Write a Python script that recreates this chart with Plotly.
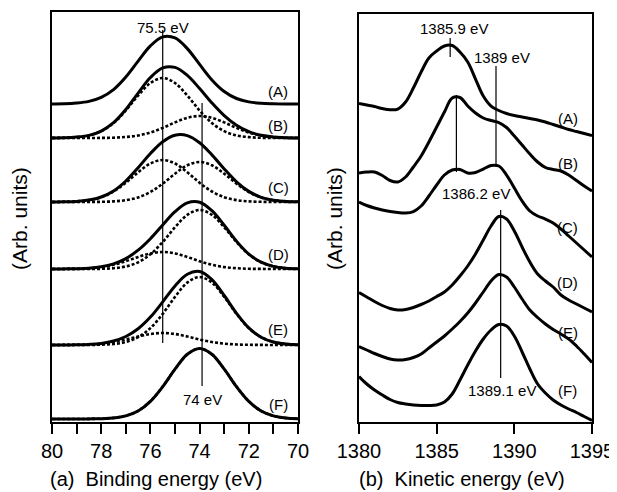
import plotly.graph_objects as go

# ---------------- Panel (a): Binding energy (eV) ----------------
binding_energy = [80, 79.5, 79, 78.5, 78, 77.5, 77, 76.5, 76, 75.5, 75,
                  74.5, 74, 73.5, 73, 72.5, 72, 71.5, 71, 70.5, 70]

xps_A = [318.1, 318.2, 318.9, 320.6, 324.6, 332.4, 345.0, 360.9, 376.1, 385.1, 384.1,
         373.4, 357.6, 342.1, 330.5, 323.5, 320.1, 318.7, 318.2, 318.0, 318.0]

xps_B = [284.1, 284.2, 284.9, 286.6, 290.9, 299.3, 312.5, 328.9, 344.5, 354.1, 354.6,
         346.6, 333.5, 319.1, 306.4, 296.7, 290.3, 286.7, 285.0, 284.3, 284.1]
fit_B1 = [284.1, 284.2, 284.9, 286.6, 290.8, 298.9, 311.5, 326.4, 339.0, 344.0, 339.0,
          326.4, 311.5, 298.9, 290.8, 286.6, 284.9, 284.2, 284.1, 284.0, 284.0]
fit_B2 = [284.0, 284.0, 284.0, 284.0, 284.1, 284.3, 285.0, 286.5, 289.5, 294.1, 299.6,
          304.2, 306.0, 304.2, 299.6, 294.1, 289.5, 286.5, 285.0, 284.3, 284.1]

xps_C = [220.0, 220.2, 220.6, 221.9, 225.0, 231.0, 241.0, 254.3, 268.5, 280.3, 286.8,
         286.4, 279.2, 267.1, 253.1, 240.2, 230.6, 224.7, 221.8, 220.6, 220.2]
fit_C1 = [220.0, 220.2, 220.6, 221.9, 224.8, 230.5, 239.2, 249.7, 258.5, 262.0, 258.5,
          249.7, 239.2, 230.5, 224.8, 221.9, 220.6, 220.2, 220.0, 220.0, 220.0]
fit_C2 = [220.0, 220.0, 220.0, 220.0, 220.2, 220.6, 221.8, 224.6, 230.0, 238.3, 248.3,
          256.7, 260.0, 256.7, 248.3, 238.3, 230.0, 224.6, 221.8, 220.6, 220.2]

xps_D = [153.0, 153.1, 153.3, 153.8, 155.2, 158.1, 163.4, 171.8, 183.3, 197.0, 210.3,
         219.1, 219.8, 211.3, 196.7, 180.8, 167.9, 159.8, 155.6, 153.8, 153.2]
fit_D1 = [153.0, 153.1, 153.2, 153.8, 154.9, 157.2, 160.8, 165.0, 168.6, 170.0, 168.6,
          165.0, 160.8, 157.2, 154.9, 153.8, 153.2, 153.1, 153.0, 153.0, 153.0]
fit_D2 = [153.0, 153.0, 153.0, 153.1, 153.2, 153.8, 155.6, 159.7, 167.7, 180.0, 194.7,
          207.1, 212.0, 207.1, 194.7, 180.0, 167.7, 159.7, 155.6, 153.8, 153.2]

xps_E = [77.0, 77.1, 77.2, 77.6, 78.6, 81.0, 85.5, 93.2, 104.9, 120.1, 136.1,
         147.8, 150.5, 142.4, 126.5, 108.7, 94.1, 84.8, 80.0, 78.0, 77.3]
fit_E1 = [77.0, 77.1, 77.2, 77.5, 78.4, 80.0, 82.5, 85.5, 88.0, 89.0, 88.0,
          85.5, 82.5, 80.0, 78.4, 77.5, 77.2, 77.1, 77.0, 77.0, 77.0]
fit_E2 = [77.0, 77.0, 77.0, 77.1, 77.3, 78.0, 80.0, 84.8, 93.9, 108.1, 125.1,
          139.4, 145.0, 139.4, 125.1, 108.1, 93.9, 84.8, 80.0, 78.0, 77.3]

xps_F = [3.0, 3.0, 3.0, 3.1, 3.3, 4.0, 6.1, 11.0, 20.6, 35.3, 52.8,
         67.7, 73.5, 67.7, 52.8, 35.3, 20.6, 11.0, 6.1, 4.0, 3.3]
fit_F = [3.0, 3.0, 3.0, 3.1, 3.3, 4.1, 6.2, 11.2, 20.8, 35.4, 52.8,
         67.6, 73.3, 67.6, 52.9, 35.4, 20.7, 11.1, 6.1, 4.0, 3.3]

xps_solid = [xps_A, xps_B, xps_C, xps_D, xps_E, xps_F]
xps_fits = [fit_B1, fit_B2, fit_C1, fit_C2, fit_D1, fit_D2, fit_E1, fit_E2, fit_F]

a_tick_vals = [80, 79, 78, 77, 76, 75, 74, 73, 72, 71, 70]
a_tick_text = ["80", "", "78", "", "76", "", "74", "", "72", "", "70"]

a_marker_E = [75.5, 73.9]
a_marker_low = [79, 36]
a_marker_high = [392, 319]
a_marker_text = ["75.5 eV", "74 eV"]
a_marker_text_E = [75.5, 73.9]
a_marker_text_y = [395, 23]

sample_labels = ["(A)", "(B)", "(C)", "(D)", "(E)", "(F)"]
a_label_E = 70.8
a_label_y = [331, 297, 235, 168, 93, 18]

# ---------------- Panel (b): Kinetic energy (eV) ----------------
kinetic_energy = [1380, 1380.5, 1381, 1381.5, 1382, 1382.5, 1383, 1383.5, 1384, 1384.5,
                  1385, 1385.5, 1386, 1386.5, 1387, 1387.5, 1388, 1388.5, 1389, 1389.5,
                  1390, 1390.5, 1391, 1391.5, 1392, 1392.5, 1393, 1393.5, 1394, 1394.5, 1395]

auger_A = [318.5, 317, 315.5, 313.5, 312.3, 313, 320, 334, 350, 364,
           371, 376, 376.5, 370, 360, 343, 326, 316, 311.5, 308.5,
           306.5, 305, 303.5, 302, 300, 297.5, 295, 292.5, 290.5, 288.5, 286.5]
auger_B = [249, 250, 250, 246.5, 241.5, 240, 245, 255, 266, 280,
           295, 310, 324, 324.5, 316, 309, 304, 301.5, 299.5, 294.5,
           286, 277, 268, 260, 254.5, 252.5, 251, 247, 241.5, 236, 231]
auger_C = [220, 216.5, 214, 212, 210.5, 209.5, 209, 210.5, 216, 226,
           237, 247, 252, 252.5, 249, 249.5, 253, 256.5, 256, 247,
           234, 221, 211, 206, 203, 199, 193, 186, 179, 172, 165]
auger_D = [129.5, 125, 120.5, 116.5, 113.5, 112, 112.5, 114.5, 117.5, 121,
           125.5, 130, 137, 146, 156, 168, 182, 196, 205.5, 203,
           191, 175, 160, 148, 141, 135, 127, 122, 118, 114, 110]
auger_E = [75.5, 72, 68.5, 65.5, 63, 62, 62.5, 64.5, 68, 74,
           80, 86, 93, 100.5, 109, 119, 130, 141, 147.5, 145,
           135, 123, 112, 104.5, 98, 92.5, 88, 83, 76, 68, 59.5]
auger_F = [45.5, 38, 32, 27, 22.5, 19.5, 18, 17, 16.5, 16.5,
           17, 20, 28, 42, 57, 71, 83, 92, 97.5, 96,
           86, 70, 53, 38, 29, 22, 17, 13, 9.5, 5.5, 1.5]
auger_curves = [auger_A, auger_B, auger_C, auger_D, auger_E, auger_F]

b_tick_vals = [1380, 1385, 1390, 1395]

b_marker_E = [1385.87, 1388.82, 1386.27, 1389.12]
b_marker_low = [365, 257, 250, 44]
b_marker_high = [384, 356, 327, 212]
b_marker_text = ["1385.9 eV", "1389 eV", "1386.2 eV", "1389.1 eV"]
b_marker_text_E = [1386.1, 1389.2, 1387.5, 1389.2]
b_marker_text_y = [393.5, 365, 228.5, 31]

b_label_E = 1393.45
b_label_y = [304, 259, 195, 139, 89, 31]

# ---------------- Figure ----------------
FONT = "Liberation Sans, Arial, Helvetica, sans-serif"
fig = go.Figure()

for ys in xps_fits:
    fig.add_trace(go.Scatter(x=binding_energy, y=ys, mode="lines", xaxis="x", yaxis="y",
                             line=dict(color="black", width=2.6, dash="3px,2px", shape="spline"),
                             hoverinfo="skip", showlegend=False))
for ys in xps_solid:
    fig.add_trace(go.Scatter(x=binding_energy, y=ys, mode="lines", xaxis="x", yaxis="y",
                             line=dict(color="black", width=3, shape="spline"),
                             hoverinfo="skip", showlegend=False))
for e, lo, hi in zip(a_marker_E, a_marker_low, a_marker_high):
    fig.add_trace(go.Scatter(x=[e, e], y=[lo, hi], mode="lines", xaxis="x", yaxis="y",
                             line=dict(color="black", width=1.2),
                             hoverinfo="skip", showlegend=False))

for ys in auger_curves:
    fig.add_trace(go.Scatter(x=kinetic_energy, y=ys, mode="lines", xaxis="x2", yaxis="y2",
                             line=dict(color="black", width=3, shape="spline"),
                             hoverinfo="skip", showlegend=False))
for e, lo, hi in zip(b_marker_E, b_marker_low, b_marker_high):
    fig.add_trace(go.Scatter(x=[e, e], y=[lo, hi], mode="lines", xaxis="x2", yaxis="y2",
                             line=dict(color="black", width=1.2),
                             hoverinfo="skip", showlegend=False))

annotations = []
for t, e, y in zip(a_marker_text, a_marker_text_E, a_marker_text_y):
    annotations.append(dict(x=e, y=y, xref="x", yref="y", text=t, showarrow=False,
                            xanchor="center", yanchor="middle",
                            font=dict(size=15, color="black", family=FONT)))
for t, y in zip(sample_labels, a_label_y):
    annotations.append(dict(x=a_label_E, y=y, xref="x", yref="y", text=t, showarrow=False,
                            xanchor="center", yanchor="middle",
                            font=dict(size=15, color="black", family=FONT)))
for t, e, y in zip(b_marker_text, b_marker_text_E, b_marker_text_y):
    annotations.append(dict(x=e, y=y, xref="x2", yref="y2", text=t, showarrow=False,
                            xanchor="center", yanchor="middle",
                            font=dict(size=15, color="black", family=FONT)))
for t, y in zip(sample_labels, b_label_y):
    annotations.append(dict(x=b_label_E, y=y, xref="x2", yref="y2", text=t, showarrow=False,
                            xanchor="center", yanchor="middle",
                            font=dict(size=15, color="black", family=FONT)))

# axis titles
annotations += [
    dict(x=-0.0593, y=0.4976, xref="paper", yref="paper", text="(Arb. units)", textangle=-90,
         xanchor="center", yanchor="middle",
         showarrow=False, font=dict(size=21, color="black", family=FONT)),
    dict(x=0.524, y=0.4976, xref="paper", yref="paper", text="(Arb. units)", textangle=-90,
         xanchor="center", yanchor="middle",
         showarrow=False, font=dict(size=21, color="black", family=FONT)),
    dict(x=0.1926, y=-0.139, xref="paper", yref="paper", text="(a)\u00a0 Binding energy (eV)",
         xanchor="center", yanchor="middle",
         showarrow=False, font=dict(size=20, color="black", family=FONT)),
    dict(x=0.7587, y=-0.139, xref="paper", yref="paper", text="(b)\u00a0 Kinetic energy (eV)",
         xanchor="center", yanchor="middle",
         showarrow=False, font=dict(size=20, color="black", family=FONT)),
]

axis_common = dict(showgrid=False, zeroline=False, showline=True, mirror=True,
                   linecolor="black", linewidth=2, automargin=False)

# the page body has an 8 px default margin, so the figure is 8 px smaller
fig.update_layout(
    width=609, height=484,
    margin=dict(l=44, r=25, t=4, b=70, autoexpand=False),
    paper_bgcolor="white", plot_bgcolor="white",
    font=dict(family=FONT, color="black"),
    xaxis=dict(domain=[0, 0.4556], range=[80, 70], tickvals=a_tick_vals, ticktext=a_tick_text,
               ticks="outside", ticklen=10, tickwidth=2, tickcolor="black",
               tickfont=dict(size=20, family=FONT, color="black"), anchor="y", **axis_common),
    yaxis=dict(domain=[0, 1], range=[0, 410], showticklabels=False, ticks="",
               anchor="x", **axis_common),
    xaxis2=dict(domain=[0.5685, 1], range=[1380, 1395], tickvals=b_tick_vals,
                ticks="outside", ticklen=10, tickwidth=2, tickcolor="black",
                tickfont=dict(size=20, family=FONT, color="black"), anchor="y2", **axis_common),
    yaxis2=dict(domain=[0, 0.9951], range=[0, 408], showticklabels=False, ticks="",
                anchor="x2", **axis_common),
    annotations=annotations,
)

fig.write_html("out.html")
